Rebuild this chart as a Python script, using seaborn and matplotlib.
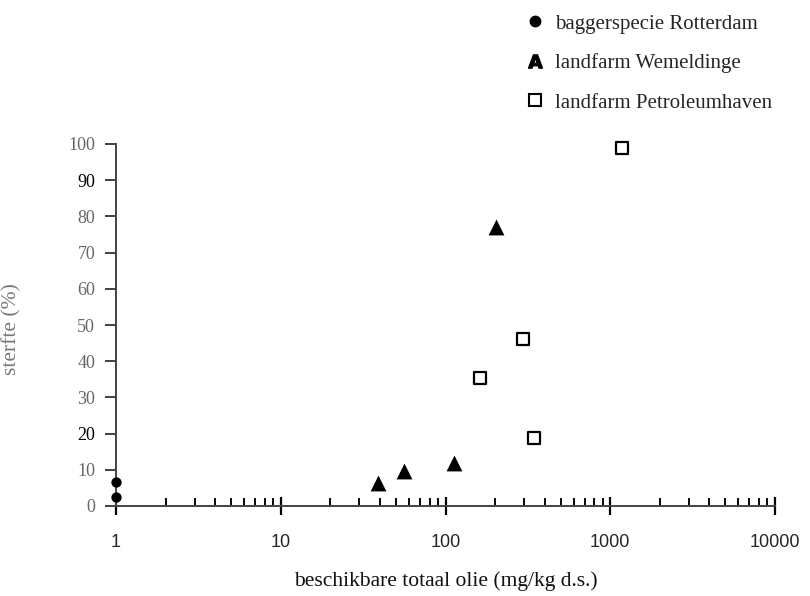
import matplotlib
matplotlib.use("Agg")
import matplotlib.pyplot as plt
import seaborn as sns
import pandas as pd
import numpy as np
from matplotlib.lines import Line2D
from matplotlib.ticker import LogLocator, FixedLocator, NullFormatter

# ---- data ----
rotterdam_x = [1, 1]
rotterdam_y = [6.5, 2.4]
wemeldinge_x = [39, 56, 112, 203]
wemeldinge_y = [6.3, 9.8, 12, 77]
petroleum_x = [163, 297, 343, 1175]
petroleum_y = [35.3, 46, 18.7, 98.8]

series_names = ["baggerspecie Rotterdam", "landfarm Wemeldinge", "landfarm Petroleumhaven"]
x_ticks = [1, 10, 100, 1000, 10000]
x_ticklabels = ["1", "10", "100", "1000", "10000"]
y_ticks = [0, 10, 20, 30, 40, 50, 60, 70, 80, 90, 100]
y_ticklabels = ["0", "10", "20", "30", "40", "50", "60", "70", "80", "90", "100"]
x_label = "beschikbare totaal olie (mg/kg d.s.)"
y_label = "sterfte (%)"

df = pd.concat([
    pd.DataFrame({"x": rotterdam_x, "y": rotterdam_y, "serie": series_names[0]}),
    pd.DataFrame({"x": wemeldinge_x, "y": wemeldinge_y, "serie": series_names[1]}),
    pd.DataFrame({"x": petroleum_x, "y": petroleum_y, "serie": series_names[2]}),
], ignore_index=True)

sns.set_style("white")
plt.rcParams["font.family"] = ["Liberation Serif", "DejaVu Serif"]

fig = plt.figure(figsize=(8.10, 5.96), dpi=100)
ax = fig.add_axes([116/810, 1-506/596, (775-116)/810, (506-144)/596])

sub = df[df.serie == series_names[0]]
sns.scatterplot(data=sub, x="x", y="y", marker="o", s=55, color="black",
                edgecolor="black", linewidth=0, ax=ax, clip_on=False, zorder=5)
sub = df[df.serie == series_names[1]]
sns.scatterplot(data=sub, x="x", y="y", marker="^", s=130, color="black",
                edgecolor="black", linewidth=0, ax=ax, clip_on=False, zorder=5)
sub = df[df.serie == series_names[2]]
sns.scatterplot(data=sub, x="x", y="y", marker="s", s=72, facecolor="white",
                edgecolor="black", linewidth=1.6, ax=ax, clip_on=False, zorder=5)

ax.set_xscale("log")
ax.set_xlim(1, 10000)
ax.set_ylim(0, 100)

for s in ["top", "right"]:
    ax.spines[s].set_visible(False)
for s in ["left", "bottom"]:
    ax.spines[s].set_color("#444444")
    ax.spines[s].set_linewidth(1.4)

ax.xaxis.set_major_locator(FixedLocator(x_ticks))
ax.set_xticklabels(x_ticklabels, fontfamily="Liberation Sans", fontsize=13)
ax.xaxis.set_minor_locator(LogLocator(base=10, subs=np.arange(2, 10), numticks=20))
ax.xaxis.set_minor_formatter(NullFormatter())
ax.tick_params(axis="x", which="major", direction="inout", length=13, width=1.6,
               color="black", pad=14, bottom=True)
ax.tick_params(axis="x", which="minor", direction="in", length=6, width=1.4,
               color="black", bottom=True)

ax.set_yticks(y_ticks)
ax.set_yticklabels(y_ticklabels, fontsize=13)
for lab, t in zip(ax.get_yticklabels(), y_ticks):
    lab.set_color("black" if t in (90, 20) else "#666666")
ax.tick_params(axis="y", which="major", direction="out", length=8, width=1.3,
               color="#333333", pad=7, left=True)

ax.set_xlabel(x_label, fontsize=15.5, labelpad=14, color="#111111")
ax.set_ylabel(y_label, fontsize=15.5, color="#777777")
ax.yaxis.set_label_coords(-0.143, 0.49)

handles = [
    Line2D([], [], marker="o", linestyle="none", color="black", markersize=7.5),
    Line2D([], [], marker=r"$\mathbf{A}$", linestyle="none", color="black", markersize=10),
    Line2D([], [], marker="s", linestyle="none", markerfacecolor="white",
           markeredgecolor="black", markeredgewidth=1.5, markersize=8),
]
fig.legend(handles, series_names, loc="upper left",
           bbox_to_anchor=(524.6/810, 1 - 14/596), frameon=False,
           fontsize=15, handlelength=1.0, handletextpad=0.46,
           labelspacing=0.95, borderpad=0, borderaxespad=0)

fig.savefig("out.png", dpi=100)
